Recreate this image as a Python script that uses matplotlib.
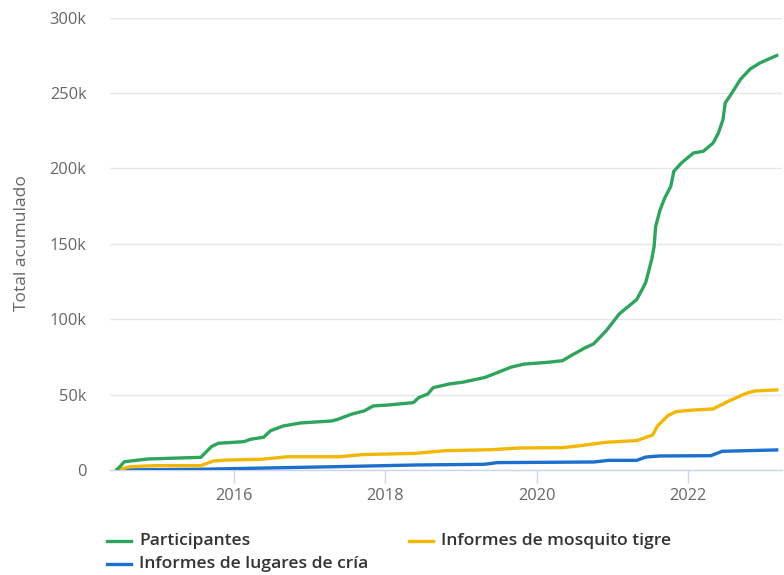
import matplotlib
matplotlib.use("Agg")
import matplotlib.pyplot as plt
from matplotlib.lines import Line2D
from matplotlib.ticker import FuncFormatter, FixedLocator

plt.rcParams['font.family'] = ['Open Sans', 'DejaVu Sans']

# --- data (decimal year, cumulative total) ---
part_x = [2014.45, 2014.55, 2014.86, 2015.56, 2015.70, 2015.79, 2016.13, 2016.22, 2016.39, 2016.48,
          2016.65, 2016.88, 2017.29, 2017.37, 2017.55, 2017.72, 2017.84, 2018.04, 2018.37, 2018.44,
          2018.56, 2018.63, 2018.85, 2019.02, 2019.31, 2019.48, 2019.66, 2019.83, 2020.17, 2020.34,
          2020.43, 2020.63, 2020.75, 2020.92, 2021.09, 2021.32, 2021.39, 2021.44, 2021.52, 2021.55,
          2021.57, 2021.63, 2021.69, 2021.77, 2021.81, 2021.91, 2022.07, 2022.20, 2022.33, 2022.40,
          2022.46, 2022.49, 2022.55, 2022.62, 2022.69, 2022.82, 2022.95, 2023.17]
part_y = [0, 5500, 7300, 8400, 15500, 17700, 18800, 20400, 21700, 26000,
          29200, 31200, 32500, 33600, 37000, 39200, 42500, 43100, 44700, 48000,
          50400, 54600, 57100, 58200, 61300, 64600, 68200, 70200, 71500, 72500,
          75200, 80800, 83600, 92500, 103500, 113000, 119500, 124500, 140000, 148200,
          161500, 172600, 180300, 188000, 198000, 203500, 210200, 211300, 216800, 223500,
          232300, 243400, 247800, 253300, 258900, 265900, 269900, 274800]

mosq_x = [2014.45, 2014.63, 2014.98, 2015.56, 2015.73, 2015.90, 2016.36, 2016.71, 2017.40, 2017.69,
          2018.38, 2018.79, 2019.42, 2019.77, 2020.34, 2020.57, 2020.92, 2021.32, 2021.53, 2021.59,
          2021.73, 2021.84, 2022.02, 2022.33, 2022.54, 2022.77, 2022.88, 2023.17]
mosq_y = [0, 2200, 2900, 2900, 6000, 6600, 7100, 8800, 8800, 10200,
          11000, 12800, 13500, 14600, 14800, 16100, 18400, 19500, 23200, 28800,
          36000, 38700, 39600, 40500, 45800, 50900, 52400, 53100]

cria_x = [2014.45, 2015.56, 2017.34, 2018.38, 2019.31, 2019.48, 2020.75, 2020.95, 2021.32, 2021.44,
          2021.62, 2022.30, 2022.45, 2023.17]
cria_y = [0, 500, 2200, 3300, 3800, 4900, 5300, 6400, 6400, 8600,
          9300, 9500, 12400, 13300]

series_names = ["Participantes", "Informes de mosquito tigre", "Informes de lugares de cría"]
colors = ["#2ea45c", "#f2b705", "#1c6fcc"]
x_ticks = [2016, 2018, 2020, 2022]
y_ticks = [0, 50000, 100000, 150000, 200000, 250000, 300000]

W, H = 784, 575
fig = plt.figure(figsize=(W / 100, H / 100), dpi=100)
L, R, T, B = 110, 782, 17.5, 470
ax = fig.add_axes([L / W, 1 - B / H, (R - L) / W, (B - T) / H])

ax.plot(cria_x, cria_y, color=colors[2], lw=2.4, solid_joinstyle='round', zorder=3)
ax.plot(mosq_x, mosq_y, color=colors[1], lw=2.4, solid_joinstyle='round', zorder=3)
ax.plot(part_x, part_y, color=colors[0], lw=2.4, solid_joinstyle='round', zorder=4)

ax.set_xlim(2014.36, 2023.24)
ax.set_ylim(0, 300000)
ax.yaxis.set_major_locator(FixedLocator(y_ticks))
ax.xaxis.set_major_locator(FixedLocator(x_ticks))
ax.yaxis.set_major_formatter(FuncFormatter(lambda v, p: "0" if v == 0 else f"{int(v/1000)}k"))
ax.xaxis.set_major_formatter(FuncFormatter(lambda v, p: f"{int(round(v))}"))

ax.grid(axis='y', color='#e6e6e6', lw=1.0)
ax.set_axisbelow(True)
for s in ['top', 'right', 'left']:
    ax.spines[s].set_visible(False)
ax.spines['bottom'].set_color('#ccd6eb')
ax.spines['bottom'].set_linewidth(1.0)
ax.tick_params(axis='y', length=0, pad=17, labelsize=11.8, labelcolor='#666666')
ax.tick_params(axis='x', length=9, width=1, color='#ccd6eb', pad=4, labelsize=11.8, labelcolor='#666666')

fig.text(22 / W, 1 - 243 / H, "Total acumulado", rotation=90, ha='center', va='center',
         fontsize=12.5, color='#666666')

# legend
leg = [(107, 541, 0), (409, 541, 1), (107, 564, 2)]
for lx, ly, i in leg:
    fig.add_artist(Line2D([lx / W, (lx + 24) / W], [1 - ly / H, 1 - ly / H],
                          color=colors[i], lw=2.4, transform=fig.transFigure))
    fig.text((lx + 32) / W, 1 - ly / H, series_names[i], ha='left', va='center',
             fontsize=12.6, color='#333333', fontweight='semibold')

fig.savefig("out.png", dpi=100, facecolor='white')
